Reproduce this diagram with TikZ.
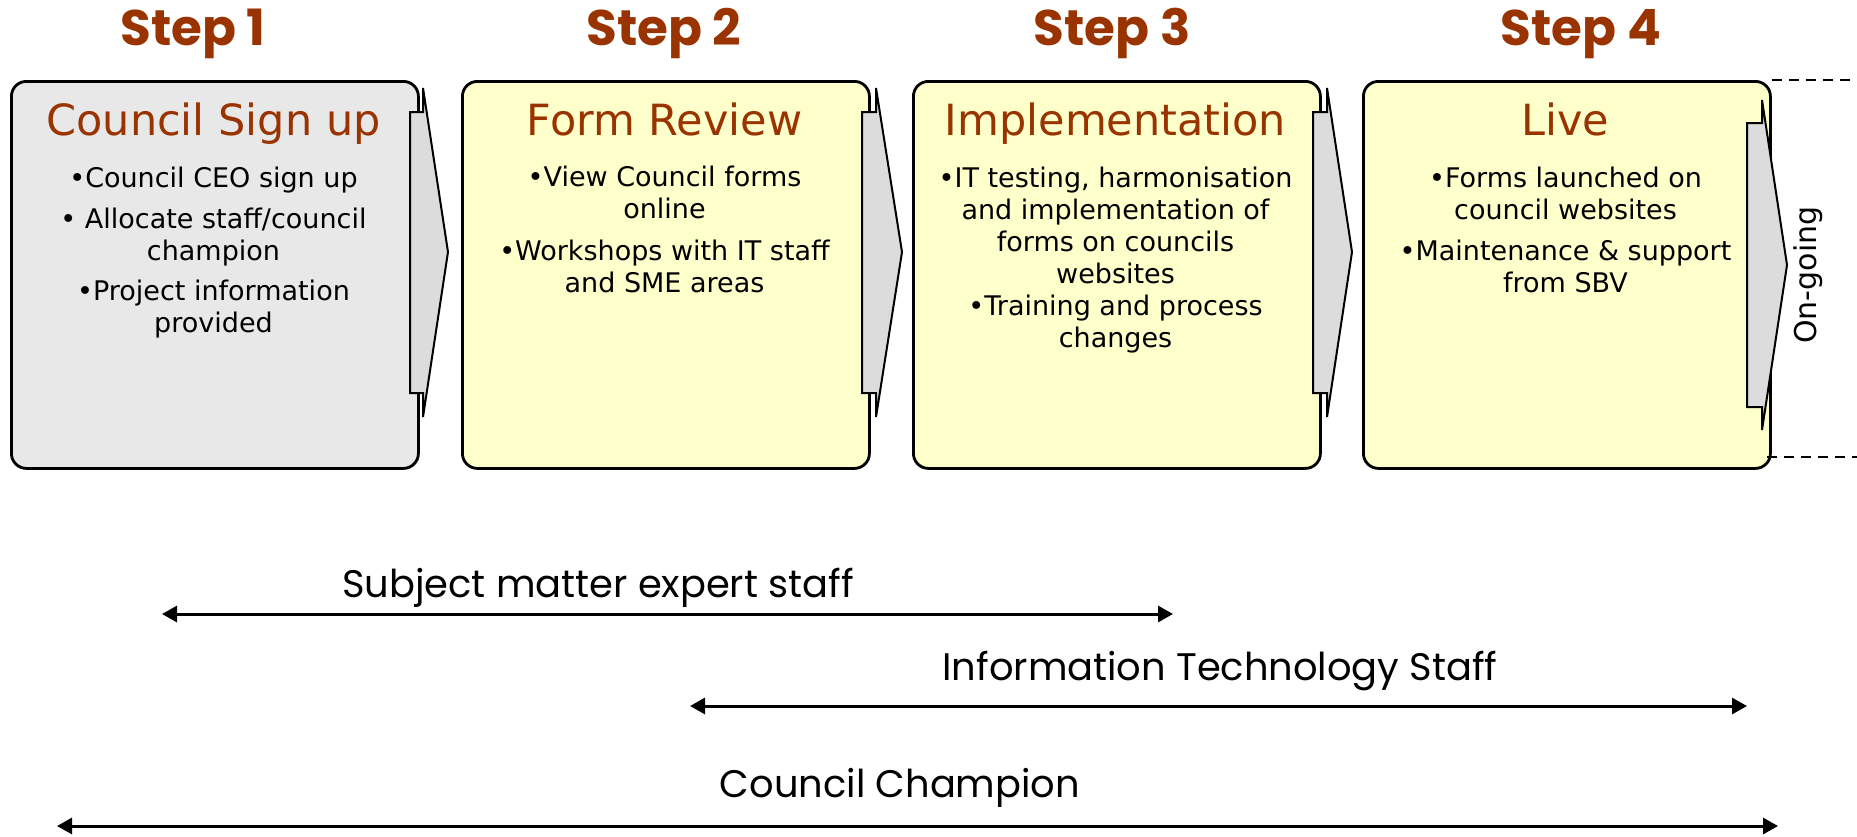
\documentclass[tikz,border=0pt]{standalone}
\usepackage{fontspec}
\setmainfont{DejaVu Sans}
\newfontfamily\geofont{Poppins}
\usetikzlibrary{arrows.meta}
\definecolor{titlebrown}{HTML}{993300}
\definecolor{graybox}{HTML}{E8E8E8}
\definecolor{yellowbox}{HTML}{FFFFCC}
\definecolor{arrowgray}{HTML}{DCDCDC}
\begin{document}
\begin{tikzpicture}[x=0.5pt,y=-0.5pt,
  stagebox/.style={draw=black, line width=1.4pt, rounded corners=7.5pt, minimum width=203.5pt, minimum height=193.5pt, anchor=north west, inner sep=0pt},
  steplabel/.style={font=\geofont\bfseries\fontsize{25}{30}\selectfont, text=titlebrown, inner sep=0pt, anchor=base},
  stagetitle/.style={font=\fontsize{21.5}{26}\selectfont, text=titlebrown, inner sep=0pt, anchor=base},
  stagebody/.style={font=\fontsize{13.5}{16}\selectfont, align=center, inner sep=0pt, anchor=north},
  notch/.style={draw=black, line width=1pt, fill=arrowgray, line join=miter},
  rolelabel/.style={font=\geofont\fontsize{19.2}{23}\selectfont, inner sep=0pt, anchor=base},
  rolespan/.style={{Triangle[length=7.5pt,width=8pt]}-{Triangle[length=7.5pt,width=8pt]}, line width=1.5pt},
  ongoingline/.style={dash pattern=on 5pt off 3.5pt, line width=1pt}
]
\useasboundingbox (0,0) rectangle (1857,836);

% step headings
\node[steplabel] (s1) at (193,45) {Step 1};
\node[steplabel] (s2) at (664,45) {Step 2};
\node[steplabel] (s3) at (1112,45) {Step 3};
\node[steplabel] (s4) at (1581,45) {Step 4};

% boxes
\node[stagebox, fill=graybox] (b1) at (10,80) {};
\node[stagebox, fill=yellowbox] (b2) at (461,80) {};
\node[stagebox, fill=yellowbox] (b3) at (912,80) {};
\node[stagebox, fill=yellowbox] (b4) at (1362,80) {};

% dashed lines
\coordinate (dT) at (1857,80);
\coordinate (dBL) at (1767,457);
\coordinate (dBR) at (1857,457);
\draw[ongoingline] (b4.north east) -- (dT);
\draw[ongoingline] (dBL) -- (dBR);

% notched arrows
\draw[notch] (410,112) -- (423,112) -- (423,88) -- (448,252) -- (423,417) -- (423,393) -- (410,393) -- cycle;
\draw[notch] (862,112) -- (876,112) -- (876,88) -- (902,252) -- (876,417) -- (876,393) -- (862,393) -- cycle;
\draw[notch] (1313,112) -- (1327,112) -- (1327,88) -- (1352,252) -- (1327,417) -- (1327,393) -- (1313,393) -- cycle;
\draw[notch] (1747,123) -- (1762,123) -- (1762,100) -- (1787,265) -- (1762,430) -- (1762,407) -- (1747,407) -- cycle;

% titles
\node[stagetitle] (t1) at (213.5,135) {Council Sign up};
\node[stagetitle] (t2) at (664.5,135) {Form Review};
\node[stagetitle] (t3) at (1115.5,135) {Implementation};
\node[stagetitle] (t4) at (1565.5,135) {Live};

% bodies
\node[stagebody] (c1) at (213.5,167) {•Council CEO sign up\\[4.25pt]• Allocate staff/council\\champion\\[4.25pt]•Project information\\provided};
\node[stagebody] (c2) at (664.5,166) {•View Council forms\\online\\[4.75pt]•Workshops with IT staff\\and SME areas};
\node[stagebody] (c3) at (1115.5,167) {•IT testing, harmonisation\\and implementation of\\forms on councils\\websites\\•Training and process\\changes};
\node[stagebody] (c4) at (1565.5,167) {•Forms launched on\\council websites\\[4.5pt]•Maintenance \& support\\from SBV};

\node[rotate=90, font=\fontsize{15}{18}\selectfont, inner sep=0pt] (og) at (1808,275) {On-going};

% roles
\node[rolelabel] (r1) at (598,597) {Subject matter expert staff};
\node[rolelabel] (r2) at (1220,680) {Information Technology Staff};
\node[rolelabel] (r3) at (900,797) {Council Champion};
\coordinate (r1L) at (162,614);
\coordinate (r1R) at (1173,614);
\coordinate (r2L) at (690,706);
\coordinate (r2R) at (1747,706);
\coordinate (r3L) at (57,826);
\coordinate (r3R) at (1778,826);
\draw[rolespan] (r1L) -- (r1R);
\draw[rolespan] (r2L) -- (r2R);
\draw[rolespan] (r3L) -- (r3R);
\end{tikzpicture}
\end{document}
